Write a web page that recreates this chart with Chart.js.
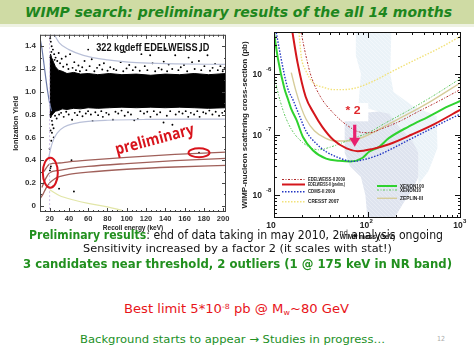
<!DOCTYPE html>
<html>
<head>
<meta charset="utf-8">
<title>WIMP search</title>
<script src="https://cdn.jsdelivr.net/npm/chart.js@4.4.1/dist/chart.umd.min.js"></script>
<style>
  html, body { margin: 0; padding: 0; background: #fff; }
  #slide { position: relative; width: 474px; height: 355px; overflow: hidden; background: #fff; }
  #banner { position: absolute; left: 0; top: 0; width: 474px; height: 24px; background: #cfdba4; }
  #bannerEdge { position: absolute; left: 0; top: 24px; width: 474px; height: 3px; background: #eef2e2; }
  canvas { position: absolute; }
  .fit { position: absolute; white-space: nowrap; line-height: 1; transform-origin: 0 50%; font-family: 'DejaVu Sans', sans-serif; }
  .fit sup { font-size: 60%; vertical-align: 0.55em; line-height: 0; }
  .fit sub { font-size: 60%; vertical-align: -0.3em; line-height: 0; }
</style>
</head>
<body>
<div id="slide">
  <div id="banner"></div>
  <div id="bannerEdge"></div>
  <canvas id="yieldChart" width="236" height="214" style="left:0;top:26px"></canvas>
  <canvas id="limitChart" width="238" height="222" style="left:236px;top:26px"></canvas>
  <div class="fit" data-w="427" style="left:25px;top:5px;font-size:14px;font-weight:bold;font-style:italic;color:#1d861d">WIMP search: preliminary results of the all 14 months</div>
  <div class="fit" data-w="414" style="left:29px;top:229px;font-size:12px;color:#111"><b style="color:#22901f">Preliminary results</b>: end of data taking in may 2010, 2<sup>nd</sup> analysis ongoing</div>
  <div class="fit" data-w="309" style="left:83px;top:243px;font-size:11px;color:#111">Sensitivity increased by a factor 2 (it scales with stat!)</div>
  <div class="fit" data-w="429" style="left:23px;top:258px;font-size:12.5px;font-weight:bold;color:#22901f">3 candidates near threshold, 2 outliers (1 @ 175 keV in NR band)</div>
  <div class="fit" data-w="225" style="left:124px;top:303px;font-size:12px;color:#e8141a">Best limit 5*10<sup>-8</sup> pb @ M<sub>w</sub>~80 GeV</div>
  <div class="fit" data-w="305" style="left:80px;top:334px;font-size:11px;color:#22901f">Background starts to appear → Studies in progress…</div>
  <div class="fit" data-w="8" style="left:437px;top:336px;font-size:7px;color:#aaa">12</div>
</div>
<script>
// ---------- left plot: ionization yield vs recoil energy ----------
const energyTicks = [20, 40, 60, 80, 100, 120, 140, 160, 180, 200];
const yieldTicks = [0, 0.2, 0.4, 0.6, 0.8, 1, 1.2, 1.4];

// the dense electron recoil population, drawn as a filled band
const bandEnergy = [20, 21, 22, 24, 26, 29, 33, 38, 45, 52, 60, 70, 82, 95, 110, 125, 140, 155, 170, 185, 203];
const bandTop    = [1.30, 1.33, 1.30, 1.26, 1.22, 1.19, 1.18, 1.16, 1.17, 1.155, 1.16, 1.15, 1.16, 1.15, 1.155, 1.145, 1.155, 1.15, 1.16, 1.15, 1.16];
const bandBottom = [0.80, 0.77, 0.79, 0.81, 0.83, 0.835, 0.85, 0.845, 0.855, 0.85, 0.86, 0.855, 0.86, 0.865, 0.86, 0.865, 0.86, 0.865, 0.86, 0.855, 0.86];

// single events outside the dense band [keV, yield]
const strayEvents = [
  [21.2,1.44],[20.6,1.47],[22.1,1.40],[23.4,1.37],[21.8,1.35],[24.7,1.33],[26.2,1.30],[27.9,1.27],[25.1,1.28],[29.4,1.34],
  [30.8,1.25],[32.5,1.29],[34.1,1.22],[36.7,1.31],[37.9,1.24],[39.5,1.20],[41.2,1.33],[43.8,1.21],[45.6,1.26],[47.3,1.19],
  [49.9,1.23],[51.4,1.18],[53.8,1.215],[56.2,1.27],[58.1,1.19],[61.5,1.225],[63.7,1.285],[66.4,1.18],[69.2,1.21],[71.8,1.235],
  [74.6,1.195],[76.3,1.25],[80.1,1.185],[82.9,1.215],[86.5,1.20],[89.2,1.19],[93.7,1.26],[96.4,1.18],[99.8,1.205],[102.6,1.235],
  [106.3,1.19],[109.1,1.215],[113.5,1.185],[115.2,1.33],[118.7,1.225],[121.4,1.19],[124.3,1.32],[126.8,1.25],[129.5,1.18],[133.1,1.21],
  [136.2,1.195],[138.4,1.265],[141.9,1.18],[143.5,1.24],[147.2,1.20],[150.3,1.32],[153.6,1.19],[156.1,1.215],[159.4,1.235],[162.7,1.18],
  [164.2,1.30],[167.8,1.26],[170.5,1.20],[174.9,1.27],[177.3,1.19],[180.6,1.225],[183.8,1.32],[186.4,1.185],[189.1,1.21],[191.7,1.245],
  [194.5,1.19],[197.2,1.225],[199.6,1.18],[201.5,1.21],[60,1.37],[98,1.35],[140,1.38],[176,1.36],
  [22.9,0.71],[24.1,0.68],[22.4,0.745],[25.6,0.79],[27.3,0.765],[29.8,0.80],[31.9,0.815],[34.6,0.78],[37.2,0.825],[39.8,0.80],
  [43.3,0.755],[46.1,0.815],[48.7,0.795],[51.2,0.825],[54.1,0.785],[57.5,0.81],[59.9,0.83],[62.8,0.80],[64.6,0.745],[67.4,0.82],
  [70.3,0.795],[73.6,0.83],[75.2,0.78],[78.8,0.815],[81.4,0.80],[85.7,0.755],[88.3,0.825],[91.2,0.81],[94.6,0.835],[97.9,0.79],
  [101.3,0.82],[104.4,0.80],[107.8,0.75],[111.5,0.76],[114.2,0.83],[117.9,0.81],[121.3,0.825],[124.6,0.78],[128.1,0.83],[131.4,0.80],
  [134.7,0.82],[138.2,0.73],[141.6,0.79],[145.1,0.83],[147.4,0.71],[150.8,0.80],[154.3,0.825],[157.9,0.81],[161.2,0.83],[163.8,0.78],
  [166.5,0.815],[169.9,0.80],[173.2,0.83],[175.6,0.78],[179.4,0.82],[182.1,0.81],[185.7,0.835],[188.9,0.80],[192.3,0.825],[195.8,0.79],
  [199.1,0.815],[201.8,0.83],
  [22.4,0.64],[24.2,0.60],[21.7,0.57],[20,0.50],[21,0.66],[20.7,0.33],[20.3,0.31],[21.3,0.345],[23.5,0.17],[29.8,0.15],
  [42.7,0.40],[45.2,0.125],[175,0.465]
];

const thresholdEnergy = [20, 20];
const thresholdYield  = [-0.1, 1.6];
const gammaUpperEnergy = [24, 25, 30, 40, 55, 80, 110, 150, 203];
const gammaUpperYield  = [1.52, 1.50, 1.43, 1.37, 1.32, 1.28, 1.255, 1.245, 1.24];
const gammaLowerEnergy = [19, 21, 24, 28, 35, 45, 60, 80, 120, 203];
const gammaLowerYield  = [0.42, 0.50, 0.58, 0.64, 0.69, 0.72, 0.74, 0.75, 0.757, 0.76];
const edgeEnergy = [10.5, 12, 14, 16, 18, 20, 22];
const edgeYield  = [1.45, 1.38, 1.25, 1.12, 1.00, 0.90, 0.83];
const nrHighEnergy = [14, 20, 30, 40, 60, 100, 150, 203];
const nrHighYield  = [0.30, 0.365, 0.375, 0.385, 0.40, 0.425, 0.45, 0.47];
const nrMidEnergy = [12, 16, 20, 30, 40, 60, 100, 150, 203];
const nrMidYield  = [0.16, 0.24, 0.29, 0.31, 0.325, 0.345, 0.37, 0.395, 0.415];
const nrLowEnergy = [10, 13, 16, 20, 25, 30, 40, 60, 100, 150, 203];
const nrLowYield  = [0.06, 0.10, 0.15, 0.20, 0.235, 0.255, 0.275, 0.295, 0.32, 0.34, 0.355];
const heatEnergy = [20, 30, 45, 60, 80, 95];
const heatYield  = [0.14, 0.09, 0.05, 0.02, -0.01, -0.04];
const candidateRings = [[20.7, 0.29], [175, 0.465]];

// ---------- right plot: exclusion limits ----------
const massTicks = [10, 100, 1000];
const massExp = ['', '2', '3'];
const sigmaTicks = [1e-8, 1e-7, 1e-6];
const sigmaExp = ['-8', '-7', '-6'];

const edw2009Mass  = [18.9, 19.4, 21.5, 24.7, 31.4, 43.3, 59.7, 82, 105, 145, 217, 351, 569, 1000];
const edw2009Sigma = [6e-6, 5e-6, 2.3e-6, 9.6e-7, 4.2e-7, 2.24e-7, 1.44e-7, 1.1e-7, 1.07e-7, 1.26e-7, 1.63e-7, 2.4e-7, 3.5e-7, 5.6e-7];
const edwPrelimMass  = [15.4, 17.9, 21.8, 26.7, 32.7, 43.3, 59.7, 79, 114, 170, 299, 525, 1000];
const edwPrelimSigma = [6e-6, 1.5e-6, 4.2e-7, 2.24e-7, 1.35e-7, 8.1e-8, 5.9e-8, 5.3e-8, 5.8e-8, 6.9e-8, 1.0e-7, 1.5e-7, 2.6e-7];
const cdmsMass  = [10.3, 11.9, 14, 16, 18.9, 22.2, 28.3, 36.1, 50, 69, 88, 132, 169, 275, 446, 726, 1000];
const cdmsSigma = [6e-6, 1.8e-6, 5.8e-7, 3.7e-7, 1.96e-7, 1.11e-7, 7.1e-8, 5.2e-8, 4.1e-8, 3.6e-8, 3.8e-8, 4.6e-8, 5.5e-8, 8.1e-8, 1.18e-7, 1.74e-7, 2.2e-7];
const cresstMass  = [18.3, 19.6, 21.8, 26, 33.9, 43.3, 55, 76, 114, 184, 324, 570, 1000];
const cresstSigma = [6e-6, 1.9e-6, 1.15e-6, 7.2e-7, 6.0e-7, 5.5e-7, 5.5e-7, 5.9e-7, 7.5e-7, 1.1e-6, 1.7e-6, 2.6e-6, 4.2e-6];
const xenon100Mass  = [9.8, 11, 12.9, 14.2, 15.2, 17.4, 20.4, 26, 36.1, 50, 66, 88, 104, 132, 169, 275, 446, 726, 1000];
const xenon100Sigma = [6e-6, 1.8e-6, 5.8e-7, 3.7e-7, 2.7e-7, 1.74e-7, 9.1e-8, 5.5e-8, 4.0e-8, 3.7e-8, 3.6e-8, 4.1e-8, 5.2e-8, 6.2e-8, 8.7e-8, 1.35e-7, 1.96e-7, 2.9e-7, 3.6e-7];
const xenon10Mass  = [9.5, 10, 11, 12.5, 14, 16, 20, 25, 30, 40, 50, 75, 100, 150, 275, 500, 1000];
const xenon10Sigma = [1.6e-6, 1.0e-6, 5e-7, 2.5e-7, 1.6e-7, 1.1e-7, 7.5e-8, 6e-8, 5.6e-8, 6.2e-8, 7.0e-8, 9e-8, 1.05e-7, 1.5e-7, 2.5e-7, 4.3e-7, 8.5e-7];
const zeplinMass  = [15.3, 17, 19.5, 22, 27, 35, 45, 60, 80, 104, 150, 275, 500, 1000];
const zeplinSigma = [1.05e-6, 5.5e-7, 2.8e-7, 1.8e-7, 1.15e-7, 8.8e-8, 7.8e-8, 7.8e-8, 8.5e-8, 1.0e-7, 1.35e-7, 2.2e-7, 3.7e-7, 7.2e-7];

// SUSY model regions (polygon outlines)
const susyCoreMass  = [57, 75, 100, 130, 170, 220, 300, 350, 350, 300, 250, 190, 100, 95, 85, 65, 57];
const susyCoreSigma = [1.75e-7, 2.0e-7, 2.3e-7, 2.4e-7, 2.2e-7, 1.3e-7, 8e-8, 5e-8, 2e-8, 1.2e-8, 8e-9, 4e-9, 4e-9, 1e-8, 2e-8, 3e-8, 5e-8];
const susyHaloMass  = [75, 180, 175, 190, 300, 550, 560, 450, 350, 350, 220, 130, 80, 85, 75];
const susyHaloSigma = [5e-6, 5e-6, 1e-6, 5e-7, 3e-7, 2e-7, 6e-8, 2.5e-8, 1.5e-8, 5e-8, 1.3e-7, 2.4e-7, 3e-7, 1e-6, 2e-6];

const factorBox = [[55, 3.3e-7], [102, 1.65e-7]];
const factorLabel = [70, 2.4e-7];
const improvementArrow = [73, 1.45e-7, 6.3e-8];

const legendLeft = ['EDELWEISS-II 2009', 'EDELWEISS-II (prelim.)', 'CDMS-II 2009', 'CRESST 2007'];
const legendRight = ['XENON100', 'XENON10', 'ZEPLIN-III'];

// ---------- helpers ----------
function pts(xs, ys) { return xs.map((x, i) => ({x: x, y: ys[i]})); }

function curve(label, xs, ys, style) {
  return Object.assign({
    label: label, data: pts(xs, ys), showLine: true, pointRadius: 0, fill: false,
    cubicInterpolationMode: 'monotone', borderWidth: 1.2, order: 1
  }, style);
}

function fitText(ctx, text, x, y, width, font, color, angle) {
  ctx.save();
  ctx.font = font;
  const w = ctx.measureText(text).width;
  ctx.translate(x, y);
  if (angle) ctx.rotate(angle);
  ctx.scale(width / w, 1);
  ctx.fillStyle = color;
  ctx.textAlign = 'center';
  ctx.textBaseline = 'middle';
  ctx.fillText(text, 0, 0);
  ctx.restore();
}

function drawFrame(chart, xMajor, xMinor, yMajor, yMinor, color, majorLen, minorLen) {
  const {ctx, chartArea: a, scales: {x, y}} = chart;
  ctx.save();
  ctx.strokeStyle = color;
  ctx.lineWidth = 1;
  ctx.strokeRect(a.left + 0.5, a.top + 0.5, a.right - a.left - 1, a.bottom - a.top - 1);
  ctx.beginPath();
  const xt = (vals, len) => vals.forEach(v => {
    const px = Math.round(x.getPixelForValue(v)) + 0.5;
    if (px < a.left || px > a.right) return;
    ctx.moveTo(px, a.bottom); ctx.lineTo(px, a.bottom - len);
    ctx.moveTo(px, a.top); ctx.lineTo(px, a.top + len);
  });
  const yt = (vals, len) => vals.forEach(v => {
    const py = Math.round(y.getPixelForValue(v)) + 0.5;
    if (py < a.top || py > a.bottom) return;
    ctx.moveTo(a.left, py); ctx.lineTo(a.left + len, py);
    ctx.moveTo(a.right, py); ctx.lineTo(a.right - len, py);
  });
  xt(xMajor, majorLen); xt(xMinor, minorLen);
  yt(yMajor, majorLen); yt(yMinor, minorLen);
  ctx.stroke();
  ctx.restore();
}

const sans = "'Liberation Sans', Arial, sans-serif";

// ---------- left chart ----------
const energyMinor = [];
for (let e = 10; e <= 200; e += 5) energyMinor.push(e);
const yieldMinor = [];
for (let q = 0; q <= 1.5; q += 0.1) yieldMinor.push(Math.round(q * 10) / 10);

const yieldDecor = {
  id: 'yieldDecor',
  afterDatasetsDraw(chart) {
    const {ctx, scales: {x, y}} = chart;
    ctx.save();
    ctx.strokeStyle = '#d8141c';
    ctx.lineWidth = 2;
    const radii = [[7.5, 15], [10.5, 4.5]];
    candidateRings.forEach(([e, q], i) => {
      ctx.beginPath();
      ctx.ellipse(x.getPixelForValue(e), y.getPixelForValue(q), radii[i][0], radii[i][1], 0, 0, Math.PI * 2);
      ctx.stroke();
    });
    ctx.restore();
    fitText(ctx, 'preliminary', x.getPixelForValue(129), y.getPixelForValue(0.577), 81,
      "bold 16px 'Open Sans', sans-serif", '#d8141c', -15 * Math.PI / 180);
    fitText(ctx, '322 kgdeff EDELWEISS ID', x.getPixelForValue(127), y.getPixelForValue(1.38), 113,
      'bold 10px ' + sans, '#111', 0);
  },
  afterDraw(chart) {
    drawFrame(chart, energyTicks, energyMinor, yieldTicks, yieldMinor, '#444', 4, 2);
  }
};

new Chart(document.getElementById('yieldChart'), {
  type: 'scatter',
  data: {
    datasets: [
      curve('threshold', thresholdEnergy, thresholdYield, {borderColor: '#cdbde4', borderDash: [2, 2], borderWidth: 1, cubicInterpolationMode: 'default', tension: 0}),
      curve('gamma upper', gammaUpperEnergy, gammaUpperYield, {borderColor: '#b9c0d8'}),
      curve('gamma lower', gammaLowerEnergy, gammaLowerYield, {borderColor: '#b9c0d8'}),
      curve('gamma edge', edgeEnergy, edgeYield, {borderColor: '#6c7aa8'}),
      curve('NR high', nrHighEnergy, nrHighYield, {borderColor: '#a0605a', borderWidth: 1.3}),
      curve('NR mid', nrMidEnergy, nrMidYield, {borderColor: '#a0605a', borderWidth: 1.3}),
      curve('NR low', nrLowEnergy, nrLowYield, {borderColor: '#a0605a', borderWidth: 1.3}),
      curve('heat threshold', heatEnergy, heatYield, {borderColor: '#e2e6a8'}),
      {label: 'events', data: strayEvents.map(p => ({x: p[0], y: p[1]})), pointRadius: 0.95,
       pointBackgroundColor: '#000', pointBorderWidth: 0, order: 2},
      curve('band top', bandEnergy, bandTop, {borderColor: '#000', backgroundColor: '#000', borderWidth: 1,
        fill: '+1', order: 3, cubicInterpolationMode: 'default', tension: 0}),
      curve('band bottom', bandEnergy, bandBottom, {borderColor: '#000', borderWidth: 1, order: 3,
        cubicInterpolationMode: 'default', tension: 0})
    ]
  },
  options: {
    responsive: false,
    animation: false,
    layout: {padding: {left: 0, top: 6, right: 10, bottom: 0}},
    plugins: {legend: {display: false}, tooltip: {enabled: false}},
    scales: {
      x: {
        type: 'linear', min: 10, max: 203,
        grid: {display: false, drawTicks: false}, border: {display: false},
        afterBuildTicks: s => { s.ticks = energyTicks.map(v => ({value: v})); },
        afterFit: s => { s.height = 28; },
        ticks: {font: {family: sans, weight: 'bold', size: 7.5}, color: '#333', padding: 2, maxRotation: 0, autoSkip: false},
        title: {display: true, text: 'Recoil energy (keV)', font: {family: sans, weight: 'bold', size: 6.5}, color: '#222', padding: {top: 0, bottom: 8}}
      },
      y: {
        type: 'linear', min: -0.055, max: 1.5,
        grid: {display: false, drawTicks: false}, border: {display: false},
        afterBuildTicks: s => { s.ticks = yieldTicks.map(v => ({value: v})); },
        afterFit: s => { s.width = 40; },
        ticks: {font: {family: sans, weight: 'bold', size: 8}, color: '#333', padding: 4, autoSkip: false},
        title: {display: true, text: 'Ionization Yield', font: {family: sans, weight: 'bold', size: 7.5}, color: '#222', padding: {top: 11, bottom: 0}}
      }
    }
  },
  plugins: [yieldDecor]
});

// ---------- right chart ----------
const massMinor = [];
[10, 100].forEach(d => { for (let k = 2; k <= 9; k++) massMinor.push(d * k); });
const sigmaMinor = [];
[1e-9, 1e-8, 1e-7, 1e-6].forEach(d => { for (let k = 2; k <= 9; k++) sigmaMinor.push(d * k); });

function hatch(bg, line) {
  const c = document.createElement('canvas');
  c.width = 4; c.height = 4;
  const g = c.getContext('2d');
  g.fillStyle = bg; g.fillRect(0, 0, 4, 4);
  g.strokeStyle = line; g.lineWidth = 0.8;
  g.beginPath(); g.moveTo(0, 0); g.lineTo(4, 4); g.stroke();
  return g.createPattern(c, 'repeat');
}

const limitDecor = {
  id: 'limitDecor',
  afterDatasetsDraw(chart) {
    const {ctx, scales: {x, y}, chartArea: a} = chart;
    ctx.save();
    // "* 2" label box
    const bx0 = x.getPixelForValue(factorBox[0][0]), by0 = y.getPixelForValue(factorBox[0][1]);
    const bx1 = x.getPixelForValue(factorBox[1][0]), by1 = y.getPixelForValue(factorBox[1][1]);
    ctx.fillStyle = '#fff';
    ctx.fillRect(bx0, by0, bx1 - bx0, by1 - by0);
    fitText(ctx, '* 2', x.getPixelForValue(factorLabel[0]), y.getPixelForValue(factorLabel[1]), 15,
      'bold 11px ' + sans, '#e0282c', 0);
    // arrow
    const ax = x.getPixelForValue(improvementArrow[0]);
    const ay0 = y.getPixelForValue(improvementArrow[1]);
    const ay1 = y.getPixelForValue(improvementArrow[2]);
    ctx.fillStyle = '#e8206e';
    ctx.fillRect(ax - 1.6, ay0, 3.2, ay1 - ay0 - 7);
    ctx.beginPath();
    ctx.moveTo(ax - 5.5, ay1 - 9); ctx.lineTo(ax + 5.5, ay1 - 9); ctx.lineTo(ax, ay1);
    ctx.closePath(); ctx.fill();
    // legend
    const drawEntry = (label, lx0, lx1, tx, ty, tw) => {
      const ds = chart.data.datasets.find(d => d.label === label);
      ctx.save();
      ctx.strokeStyle = ds.borderColor;
      ctx.lineWidth = ds.borderWidth;
      ctx.setLineDash(ds.borderDash || []);
      ctx.beginPath(); ctx.moveTo(lx0, ty); ctx.lineTo(lx1, ty); ctx.stroke();
      ctx.restore();
      ctx.save();
      ctx.font = 'bold 6px ' + sans;
      const w = ctx.measureText(label).width;
      ctx.translate(tx, ty);
      ctx.scale(tw / w, 1);
      ctx.fillStyle = '#222';
      ctx.textBaseline = 'middle';
      ctx.fillText(label, 0, 0);
      ctx.restore();
    };
    const leftRows = [-38.5, -33.5, -26.3, -16.3];
    const leftWidths = [37, 37, 27, 31];
    legendLeft.forEach((lab, i) => drawEntry(lab, a.left + 8, a.left + 31, a.left + 34, a.bottom + leftRows[i], leftWidths[i]));
    const rightRows = [-32, -28, -19.7];
    const rightWidths = [24, 21, 23];
    legendRight.forEach((lab, i) => drawEntry(lab, a.left + 103, a.left + 123, a.left + 126, a.bottom + rightRows[i], rightWidths[i]));
    ctx.restore();
  },
  afterDraw(chart) {
    const {ctx, scales: {x, y}, chartArea: a} = chart;
    drawFrame(chart, massTicks, massMinor, sigmaTicks, sigmaMinor, '#111', 6, 3);
    ctx.save();
    ctx.fillStyle = '#222';
    ctx.textBaseline = 'middle';
    sigmaTicks.forEach((v, i) => {
      const py = y.getPixelForValue(v);
      ctx.font = 'bold 8.5px ' + sans;
      ctx.textAlign = 'right';
      ctx.fillText('10', a.left - 12, py + 1);
      ctx.font = 'bold 6px ' + sans;
      ctx.textAlign = 'left';
      ctx.fillText(sigmaExp[i], a.left - 8, py - 5);
    });
    massTicks.forEach((v, i) => {
      const px = x.getPixelForValue(v);
      ctx.font = 'bold 8.5px ' + sans;
      ctx.textAlign = 'center';
      ctx.fillText('10', px - 3, a.bottom + 8);
      if (massExp[i]) {
        ctx.font = 'bold 6px ' + sans;
        ctx.textAlign = 'left';
        ctx.fillText(massExp[i], px + 2, a.bottom + 3);
      }
    });
    ctx.restore();
  }
};

new Chart(document.getElementById('limitChart'), {
  type: 'scatter',
  data: {
    datasets: [
      curve('EDELWEISS-II 2009', edw2009Mass, edw2009Sigma, {borderColor: '#b02a2a', borderWidth: 1, borderDash: [2, 1.5, 1, 1.5]}),
      curve('EDELWEISS-II (prelim.)', edwPrelimMass, edwPrelimSigma, {borderColor: '#d4161c', borderWidth: 2}),
      curve('CDMS-II 2009', cdmsMass, cdmsSigma, {borderColor: '#2336c4', borderWidth: 1.4, borderDash: [1.5, 1.5]}),
      curve('CRESST 2007', cresstMass, cresstSigma, {borderColor: '#f2e27a', borderWidth: 1.4, borderDash: [1.5, 1.5]}),
      curve('XENON100', xenon100Mass, xenon100Sigma, {borderColor: '#2fd22f', borderWidth: 2}),
      curve('XENON10', xenon10Mass, xenon10Sigma, {borderColor: '#5cc65c', borderWidth: 1, borderDash: [2, 1.5, 1, 1.5]}),
      curve('ZEPLIN-III', zeplinMass, zeplinSigma, {borderColor: '#d6cc9a', borderWidth: 1.4}),
      curve('SUSY core', susyCoreMass, susyCoreSigma, {borderWidth: 0, fill: 'shape', tension: 0,
        cubicInterpolationMode: 'default', backgroundColor: hatch('#dfe4ef', '#eaeef5'), order: 9}),
      curve('SUSY halo', susyHaloMass, susyHaloSigma, {borderWidth: 0, fill: 'shape', tension: 0,
        cubicInterpolationMode: 'default', backgroundColor: hatch('#ebf3f8', '#f4f8fb'), order: 10})
    ]
  },
  options: {
    responsive: false,
    animation: false,
    layout: {padding: {left: 0, top: 6, right: 13, bottom: 0}},
    plugins: {legend: {display: false}, tooltip: {enabled: false}},
    scales: {
      x: {
        type: 'logarithmic', min: 10, max: 1000,
        grid: {display: false, drawTicks: false}, border: {display: false},
        afterBuildTicks: s => { s.ticks = massTicks.map(v => ({value: v})); },
        afterFit: s => { s.height = 30; },
        ticks: {display: false},
        title: {display: true, text: 'WIMP mass (GeV)', font: {family: sans, weight: 'bold', size: 6.5}, color: '#222', padding: {top: 0, bottom: 7}}
      },
      y: {
        type: 'logarithmic', min: 4.2e-9, max: 4.9e-6,
        grid: {display: false, drawTicks: false}, border: {display: false},
        afterBuildTicks: s => { s.ticks = sigmaTicks.map(v => ({value: v})); },
        afterFit: s => { s.width = 38; },
        ticks: {display: false},
        title: {display: true, text: 'WIMP-nucleon scattering cross-section (pb)', font: {family: sans, weight: 'bold', size: 8}, color: '#222', padding: {top: 4, bottom: 0}}
      }
    }
  },
  plugins: [limitDecor]
});

// squeeze the slide texts to the widths they have on the original slide
document.querySelectorAll('.fit').forEach(el => {
  const nat = el.getBoundingClientRect().width;
  el.style.transform = 'scaleX(' + (el.dataset.w / nat) + ')';
});
</script>
</body>
</html>
